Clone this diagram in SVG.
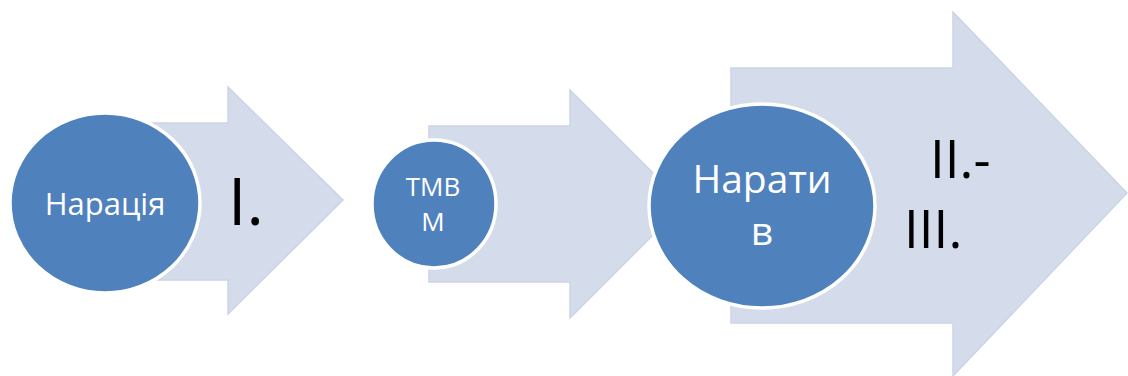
<svg xmlns="http://www.w3.org/2000/svg" width="1128" height="376" viewBox="0 0 1128 376">
<style>
.arrow{fill:#D4DCEB;stroke:#CBD4E6;stroke-width:1.5}
.circ{fill:#4F81BD;stroke:#FFFFFF;stroke-width:3.5}
.wt{fill:#FFFFFF;font-family:"Open Sans","Liberation Sans",sans-serif;text-anchor:middle}
.bt{fill:#000000;font-family:"Open Sans","Liberation Sans",sans-serif}
</style>
<rect width="1128" height="376" fill="#FFFFFF"/>
<g id="connectors">
<path class="arrow" d="M120,123 L228,123 L228,87 L343,200 L228,314 L228,280 L120,280 Z"/>
<path class="arrow" d="M429,126 L570,126 L570,90 L684,204 L570,318 L570,282 L429,282 Z"/>
<path class="arrow" d="M731,68 L953,68 L953,12 L1127,193 L953,376 L953,323 L731,323 Z"/>
</g>
<g id="node1">
<ellipse class="circ" cx="105" cy="203" rx="95" ry="90"/>
<text class="wt" x="105" y="215" font-size="31">Нарація</text>
<text class="bt" x="228" y="225" font-size="66">I.</text>
</g>
<g id="node2">
<ellipse class="circ" cx="434" cy="204" rx="62" ry="64"/>
<text class="wt" x="433" y="196" font-size="26">ТМВ</text>
<text class="wt" x="433" y="231" font-size="26">М</text>
</g>
<g id="node3">
<ellipse class="circ" cx="762" cy="206" rx="113" ry="102"/>
<text class="wt" x="762" y="193" font-size="39">Нарати</text>
<text class="wt" x="762" y="245" font-size="39">в</text>
<text class="bt" x="930" y="178" font-size="53">II.-</text>
<text class="bt" x="904" y="248" font-size="53">III.</text>
</g>
</svg>
